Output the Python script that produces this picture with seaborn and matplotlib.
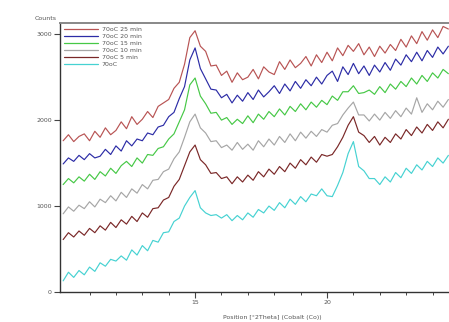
import numpy as np
import pandas as pd
import matplotlib
matplotlib.use("Agg")
import matplotlib.pyplot as plt
import seaborn as sns
from matplotlib.ticker import MultipleLocator, FixedLocator

two_theta = np.round(np.arange(10.0, 24.61, 0.2), 1)

labels = ["70oC 25 min", "70oC 20 min", "70oC 15 min", "70oC 10 min", "70oC 5 min", "70oC"]
colors = ["#b85454", "#2c2ca6", "#46c846", "#a6a6a6", "#7a2828", "#46d2d2"]

c25 = [1760, 1830, 1750, 1810, 1840, 1760, 1870, 1800, 1910, 1830,
       1880, 1980, 1900, 2040, 1950, 2010, 2100, 2030, 2160, 2200,
       2240, 2370, 2440, 2650, 2960, 3040, 2860, 2800, 2630, 2640,
       2520, 2570, 2440, 2550, 2470, 2500, 2590, 2480, 2620, 2560,
       2530, 2680, 2590, 2700, 2610, 2660, 2740, 2630, 2760, 2670,
       2790, 2690, 2840, 2750, 2870, 2800, 2890, 2760, 2850, 2740,
       2860, 2780, 2880, 2810, 2940, 2850, 2980, 2890, 3030, 2930,
       3050, 2960, 3090, 3060]
c20 = [1490, 1560, 1520, 1590, 1540, 1610, 1560, 1580, 1660, 1600,
       1700, 1640, 1760, 1700, 1780, 1760, 1850, 1830, 1920, 1940,
       2040, 2090, 2250, 2390, 2700, 2840, 2600, 2480, 2360, 2350,
       2260, 2300, 2200, 2290, 2220, 2320, 2240, 2350, 2270, 2330,
       2400, 2310, 2420, 2340, 2450, 2370, 2470, 2400, 2500, 2420,
       2520, 2570, 2450, 2620, 2530, 2660, 2540, 2630, 2520, 2640,
       2560, 2670, 2580, 2710, 2640, 2760, 2680, 2790, 2690, 2810,
       2730, 2850, 2770, 2860]
c15 = [1250, 1320, 1270, 1340, 1290, 1370, 1310, 1400, 1350, 1440,
       1380, 1470, 1520, 1460, 1560, 1500, 1600, 1590, 1670, 1690,
       1780, 1840, 1980, 2120, 2410, 2490, 2280, 2190, 2080, 2090,
       2000, 2030, 1950, 2010, 1960, 2050, 1970, 2070, 2010, 2100,
       2040, 2130, 2060, 2160, 2100, 2190, 2120, 2210, 2150, 2230,
       2180, 2280, 2230, 2330, 2330, 2400, 2310, 2320, 2350, 2300,
       2390, 2320, 2420, 2360, 2450, 2390, 2490, 2420, 2520, 2450,
       2550, 2490, 2590, 2540]
c10 = [910, 990, 940, 1010, 970, 1050, 990, 1080, 1040, 1120,
       1060, 1160, 1100, 1200, 1150, 1250, 1200, 1300, 1310, 1400,
       1430, 1550, 1630, 1800, 1980, 2070, 1910, 1850, 1750, 1760,
       1680, 1710, 1650, 1740, 1660, 1720, 1650, 1760, 1690, 1780,
       1710, 1810, 1740, 1840, 1760, 1860, 1790, 1870, 1810, 1890,
       1860, 1940, 1960, 2060, 2140, 2210, 2060, 2060, 1990, 2070,
       2000, 2090, 2020, 2110, 2040, 2140, 2070, 2260, 2090, 2190,
       2120, 2220, 2150, 2240]
c5 = [610, 690, 640, 710, 660, 740, 690, 770, 720, 810,
      750, 840, 790, 880, 820, 920, 870, 970, 980, 1070,
      1100, 1230, 1310, 1470, 1630, 1710, 1540, 1480, 1380, 1390,
      1320, 1340, 1260, 1340, 1280, 1360, 1300, 1400, 1340, 1430,
      1370, 1460, 1400, 1500, 1440, 1540, 1480, 1570, 1510, 1600,
      1580, 1600, 1690, 1800, 1940, 2040, 1860, 1820, 1740, 1810,
      1710, 1800, 1740, 1840, 1780, 1890, 1820, 1920, 1850, 1950,
      1880, 1980, 1910, 2010]
c0 = [130, 230, 170, 250, 200, 290, 240, 340, 300, 380,
      360, 420, 370, 490, 430, 540, 480, 600, 580, 690,
      700, 820, 860, 1000, 1100, 1180, 980, 920, 890, 900,
      860, 900, 830, 890, 840, 920, 870, 960, 920, 1000,
      950, 1040, 980, 1080, 1020, 1110, 1050, 1140, 1120, 1200,
      1120, 1110, 1240, 1390, 1610, 1750, 1460, 1410, 1320, 1320,
      1250, 1340, 1280, 1390, 1330, 1440, 1380, 1480, 1420, 1520,
      1460, 1560, 1500, 1590]

series = [c25, c20, c15, c10, c5, c0]

frames = []
for lab, vals in zip(labels, series):
    frames.append(pd.DataFrame({"pos": two_theta, "counts": vals, "sample": lab}))
df = pd.concat(frames, ignore_index=True)

sns.set_style("white")
plt.rcParams["font.family"] = ["DejaVu Sans"]

fig = plt.figure(figsize=(4.49, 3.22), dpi=100)
ax = fig.add_axes([60/449, 30/322, 424/449, 269/322])

sns.lineplot(data=df, x="pos", y="counts", hue="sample", hue_order=labels,
             palette=colors, linewidth=0.85, ax=ax, legend=True, estimator=None,
             sort=False)

ax.set_xlim(9.88, 25.95)
ax.set_ylim(0, 3130)

ax.yaxis.set_major_locator(FixedLocator([0, 1000, 2000, 3000]))
ax.xaxis.set_major_locator(FixedLocator([15, 20]))
ax.xaxis.set_minor_locator(FixedLocator([11, 12, 13, 14, 16, 17, 18, 19, 21, 22, 23, 24, 25]))
ax.tick_params(axis="both", which="major", labelsize=4.5, labelcolor="#555555",
               length=4, width=0.8, color="#444444", direction="out", pad=2)
ax.tick_params(axis="x", which="minor", length=2.5, width=0.7, color="#444444",
               direction="out")
ax.tick_params(left=True, bottom=True, which="both")

for s in ["left", "bottom"]:
    ax.spines[s].set_color("#333333")
    ax.spines[s].set_linewidth(1.0)
ax.spines["top"].set_color("#888888")
ax.spines["top"].set_linewidth(1.4)
ax.spines["right"].set_visible(False)

ax.set_xlabel("Position [°2Theta] (Cobalt (Co))", fontsize=4.5, color="#555555", labelpad=7)
ax.set_ylabel("")
fig.text(35/449, 1 - 18/322, "Counts", fontsize=4.5, color="#555555", ha="left", va="center")

leg = ax.legend(loc="upper left", bbox_to_anchor=(0.0, 1.0), frameon=False,
                fontsize=4.5, handlelength=5.5, handletextpad=0.6,
                labelspacing=0.25, borderaxespad=0.2)
for t in leg.get_texts():
    t.set_color("#555555")
for h in leg.get_lines():
    h.set_linewidth(0.9)

fig.savefig("out.png", dpi=100)
